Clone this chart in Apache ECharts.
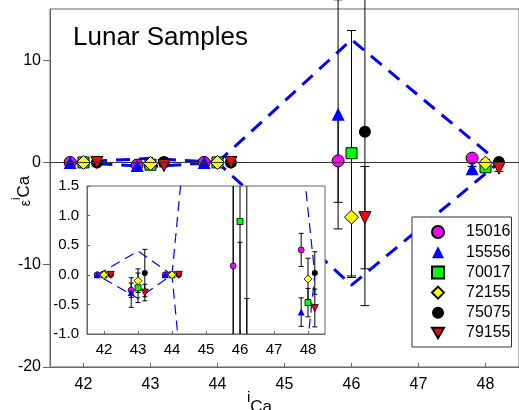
<!DOCTYPE html>
<html>
<head>
<meta charset="utf-8">
<script src="https://cdn.jsdelivr.net/npm/echarts@6/dist/echarts.min.js"></script>
<style>
html, body { margin: 0; padding: 0; background: #fff; }
#chart { width: 519px; height: 410px; }
</style>
</head>
<body>
<div id="chart"></div>
<script>
// samples, in legend order
var samples = ['15016', '15556', '70017', '72155', '75075', '79155'];

// mass positions (iCa), epsilon values and 1-sigma errors per sample
var x15016 = [41.8, 42.8, 43.8, 45.8, 47.8];
var y15016 = [0, -0.26, 0, 0.15, 0.42];
var e15016 = [0, 0.12, 0, 4.05, 0.28];

var x15556 = [41.8, 42.8, 43.8, 45.8, 47.8];
var y15556 = [0, -0.3, 0, 4.7, -0.63];
var e15556 = [0, 0.25, 0, 11.2, 0.24];

var x70017 = [42, 43, 44, 46, 48];
var y70017 = [0, -0.22, 0, 0.9, -0.47];
var e70017 = [0, 0.25, 0, 12.0, 0.24];

var x72155 = [42, 43, 44, 46, 48];
var y72155 = [0, -0.1, 0, -5.35, -0.07];
var e72155 = [0, 0.2, 0, 5.9, 0.35];

var x75075 = [42.2, 43.2, 44.2, 46.2, 48.2];
var y75075 = [0, 0.03, 0, 3.0, 0.03];
var e75075 = [0, 0.4, 0, 17, 0.36];

var x79155 = [42.2, 43.2, 44.2, 46.2, 48.2];
var y79155 = [0, -0.3, 0, -5.4, -0.56];
var e79155 = [0, 0.14, 0, 5.0, 0.32];

// dashed envelopes
var envBigX = [44, 46, 48.2, 46, 44];
var envBigY = [0, 12, 0, -12, 0];
var envSmallX = [41.8, 43, 44, 43, 41.8];
var envSmallY = [0, 0.4, 0, -0.4, 0];

// tick values
var mainXTicks = [42, 43, 44, 45, 46, 47, 48];
var mainYTicks = [-20, -10, 0, 10];
var insetXTicks = [42, 43, 44, 45, 46, 47, 48];
var insetYTicks = [-1.0, -0.5, 0.0, 0.5, 1.0, 1.5];

var xs = [x15016, x15556, x70017, x72155, x75075, x79155];
var ys = [y15016, y15556, y70017, y72155, y75075, y79155];
var es = [e15016, e15556, e70017, e72155, e75075, e79155];

var colors = ['#ff00ff', '#0000ff', '#00ff00', '#ffff00', '#000000', '#ff0000'];
var symbols = ['circle', 'triangle', 'rect', 'diamond', 'circle', 'triangle'];
var rotates = [0, 0, 0, 0, 0, 180];
var borders = [1, 0, 1, 1, 0, 1];
var mainSizes = [12, 13, 11, 14, 12, 12];
var insetSizes = [6, 7, 6, 8, 6, 7];
var DOWN_TRI = 'path://M0,0 L10,0 L5,8.66 Z';

var FONT = '"Liberation Sans", Arial, sans-serif';

function zip(a, b) {
  var out = [];
  for (var i = 0; i < a.length; i++) out.push([a[i], b[i]]);
  return out;
}

function errData(x, y, e) {
  var out = [];
  for (var i = 0; i < x.length; i++) out.push([x[i], y[i] - e[i], y[i] + e[i]]);
  return out;
}

function errRender(cap) {
  return function (params, api) {
    var x = api.value(0), lo = api.value(1), hi = api.value(2);
    if (hi - lo <= 0) return null;
    var p1 = api.coord([x, lo]);
    var p2 = api.coord([x, hi]);
    var st = { stroke: '#000', lineWidth: 1 };
    return {
      type: 'group',
      children: [
        { type: 'line', shape: { x1: p1[0], y1: p1[1], x2: p2[0], y2: p2[1] }, style: st },
        { type: 'line', shape: { x1: p1[0] - cap, y1: p1[1], x2: p1[0] + cap, y2: p1[1] }, style: st },
        { type: 'line', shape: { x1: p2[0] - cap, y1: p2[1], x2: p2[0] + cap, y2: p2[1] }, style: st }
      ]
    };
  };
}

var series = [];

// zero lines and envelopes
series.push({
  type: 'line', xAxisIndex: 0, yAxisIndex: 0, z: 2,
  data: zip(envBigX, envBigY), showSymbol: false, silent: true,
  lineStyle: { color: '#0000ff', width: 3, type: [14, 9] },
  markLine: {
    silent: true, symbol: 'none', label: { show: false },
    lineStyle: { color: '#333', width: 1, type: 'solid' },
    data: [{ yAxis: 0 }]
  }
});
series.push({
  type: 'line', xAxisIndex: 0, yAxisIndex: 0, z: 2,
  data: zip(envSmallX, envSmallY), showSymbol: false, silent: true,
  lineStyle: { color: '#0000ff', width: 3, type: [14, 9] }
});
series.push({
  type: 'line', xAxisIndex: 1, yAxisIndex: 1, z: 12,
  data: zip(envBigX, envBigY), showSymbol: false, silent: true,
  lineStyle: { color: '#0000ff', width: 1.2, type: [10, 6] },
  markLine: {
    silent: true, symbol: 'none', label: { show: false },
    lineStyle: { color: '#000', width: 1, type: 'solid' },
    data: [{ yAxis: 0 }]
  }
});
series.push({
  type: 'line', xAxisIndex: 1, yAxisIndex: 1, z: 12,
  data: zip(envSmallX, envSmallY), showSymbol: false, silent: true,
  lineStyle: { color: '#0000ff', width: 1.2, type: [10, 6] }
});

for (var i = 0; i < samples.length; i++) {
  var itemStyle = { color: colors[i], borderColor: '#000', borderWidth: borders[i], opacity: 1 };
  // main panel
  series.push({
    type: 'custom', name: 'err-' + samples[i], xAxisIndex: 0, yAxisIndex: 0, z: 2,
    renderItem: errRender(4.5), clip: false, silent: true,
    encode: { x: 0, y: [1, 2] },
    data: errData(xs[i], ys[i], es[i])
  });
  series.push({
    type: 'scatter', name: samples[i], xAxisIndex: 0, yAxisIndex: 0, z: 2,
    symbol: symbols[i], symbolRotate: rotates[i], symbolSize: mainSizes[i],
    itemStyle: itemStyle, silent: true,
    data: zip(xs[i], ys[i])
  });
}
for (var j = 0; j < samples.length; j++) {
  var itemStyle2 = { color: colors[j], borderColor: '#000', borderWidth: borders[j] ? 0.8 : 0, opacity: 1 };
  // inset panel
  series.push({
    type: 'custom', name: 'ierr-' + samples[j], xAxisIndex: 1, yAxisIndex: 1, z: 12,
    renderItem: errRender(2.5), clip: true, silent: true,
    encode: { x: 0, y: [1, 2] },
    data: errData(xs[j], ys[j], es[j])
  });
  series.push({
    type: 'scatter', name: 'in-' + samples[j], xAxisIndex: 1, yAxisIndex: 1, z: 12,
    symbol: symbols[j], symbolRotate: rotates[j], symbolSize: insetSizes[j],
    itemStyle: itemStyle2, silent: true,
    data: zip(xs[j], ys[j])
  });
}

var legendData = samples.map(function (s, k) {
  return rotates[k] ? { name: s, icon: DOWN_TRI } : { name: s };
});

var chart = echarts.init(document.getElementById('chart'), null, { renderer: 'canvas' });
chart.setOption({
  animation: false,
  backgroundColor: '#fff',
  textStyle: { fontFamily: FONT },
  title: {
    text: 'Lunar Samples', left: 73, top: 25, padding: 0,
    textStyle: { fontSize: 26, fontWeight: 'normal', color: '#000', fontFamily: FONT }
  },
  grid: [
    { left: 50, top: 9, right: -7, bottom: 43, show: true, borderColor: '#666', borderWidth: 1, backgroundColor: 'transparent' },
    { left: 87, top: 186, width: 238, height: 148, show: true, borderColor: '#666', borderWidth: 1, backgroundColor: '#fff', z: 10 }
  ],
  xAxis: [
    {
      gridIndex: 0, type: 'value', min: 41.5, max: 48.5,
      axisLine: { show: true, onZero: false, lineStyle: { color: '#666' } },
      axisTick: { show: true, inside: true, length: 4, customValues: mainXTicks, lineStyle: { color: '#666' } },
      axisLabel: { customValues: mainXTicks, fontSize: 16, color: '#000', margin: 10, fontFamily: FONT },
      splitLine: { show: false }
    },
    {
      gridIndex: 1, type: 'value', min: 41.5, max: 48.5, z: 11,
      axisLine: { show: true, onZero: false, lineStyle: { color: '#666' } },
      axisTick: { show: true, inside: true, length: 3, customValues: insetXTicks, lineStyle: { color: '#666' } },
      axisLabel: { customValues: insetXTicks, fontSize: 15, color: '#000', margin: 8, fontFamily: FONT },
      splitLine: { show: false }
    }
  ],
  yAxis: [
    {
      gridIndex: 0, type: 'value', min: -20, max: 15,
      axisLine: { show: true, onZero: false, lineStyle: { color: '#666' } },
      axisTick: { show: true, inside: false, length: 7, customValues: mainYTicks, lineStyle: { color: '#666' } },
      axisLabel: { customValues: mainYTicks, fontSize: 16, color: '#000', margin: 9, fontFamily: FONT },
      splitLine: { show: false }
    },
    {
      gridIndex: 1, type: 'value', min: -1, max: 1.5, z: 11,
      axisLine: { show: true, onZero: false, lineStyle: { color: '#666' } },
      axisTick: { show: true, inside: true, length: 3, customValues: insetYTicks, lineStyle: { color: '#666' } },
      axisLabel: {
        customValues: insetYTicks, fontSize: 15, color: '#000', margin: 8, fontFamily: FONT,
        formatter: function (v) { return v.toFixed(1); }
      },
      splitLine: { show: false }
    }
  ],
  legend: {
    data: legendData, orient: 'vertical', left: 412, top: 217,
    padding: [7, 1, 6, 19], itemGap: 4.2, itemWidth: 12, itemHeight: 12,
    backgroundColor: '#fff', borderColor: '#333', borderWidth: 1,
    selectedMode: false, z: 20,
    textStyle: { fontSize: 16, lineHeight: 16, color: '#000', padding: [0, 0, 0, 17], fontFamily: FONT }
  },
  graphic: [
    {
      type: 'text', left: 247, top: 390, z: 20,
      style: {
        text: '{i|i}{c|Ca}', fontFamily: FONT,
        rich: {
          i: { fontSize: 15, verticalAlign: 'top', lineHeight: 26, fill: '#000', fontFamily: FONT },
          c: { fontSize: 17, verticalAlign: 'bottom', lineHeight: 26, fill: '#000', fontFamily: FONT }
        }
      }
    },
    {
      type: 'text', x: 22, y: 191, rotation: Math.PI / 2, z: 20,
      style: {
        text: '{e|ε}{i|i}{c|Ca}', fontFamily: FONT, align: 'center', verticalAlign: 'middle',
        rich: {
          e: { fontSize: 14, verticalAlign: 'bottom', lineHeight: 22, fill: '#000', fontFamily: FONT },
          i: { fontSize: 12, verticalAlign: 'top', lineHeight: 22, fill: '#000', fontFamily: FONT },
          c: { fontSize: 17, verticalAlign: 'bottom', lineHeight: 22, fill: '#000', fontFamily: FONT }
        }
      }
    }
  ],
  series: series
});
</script>
</body>
</html>
